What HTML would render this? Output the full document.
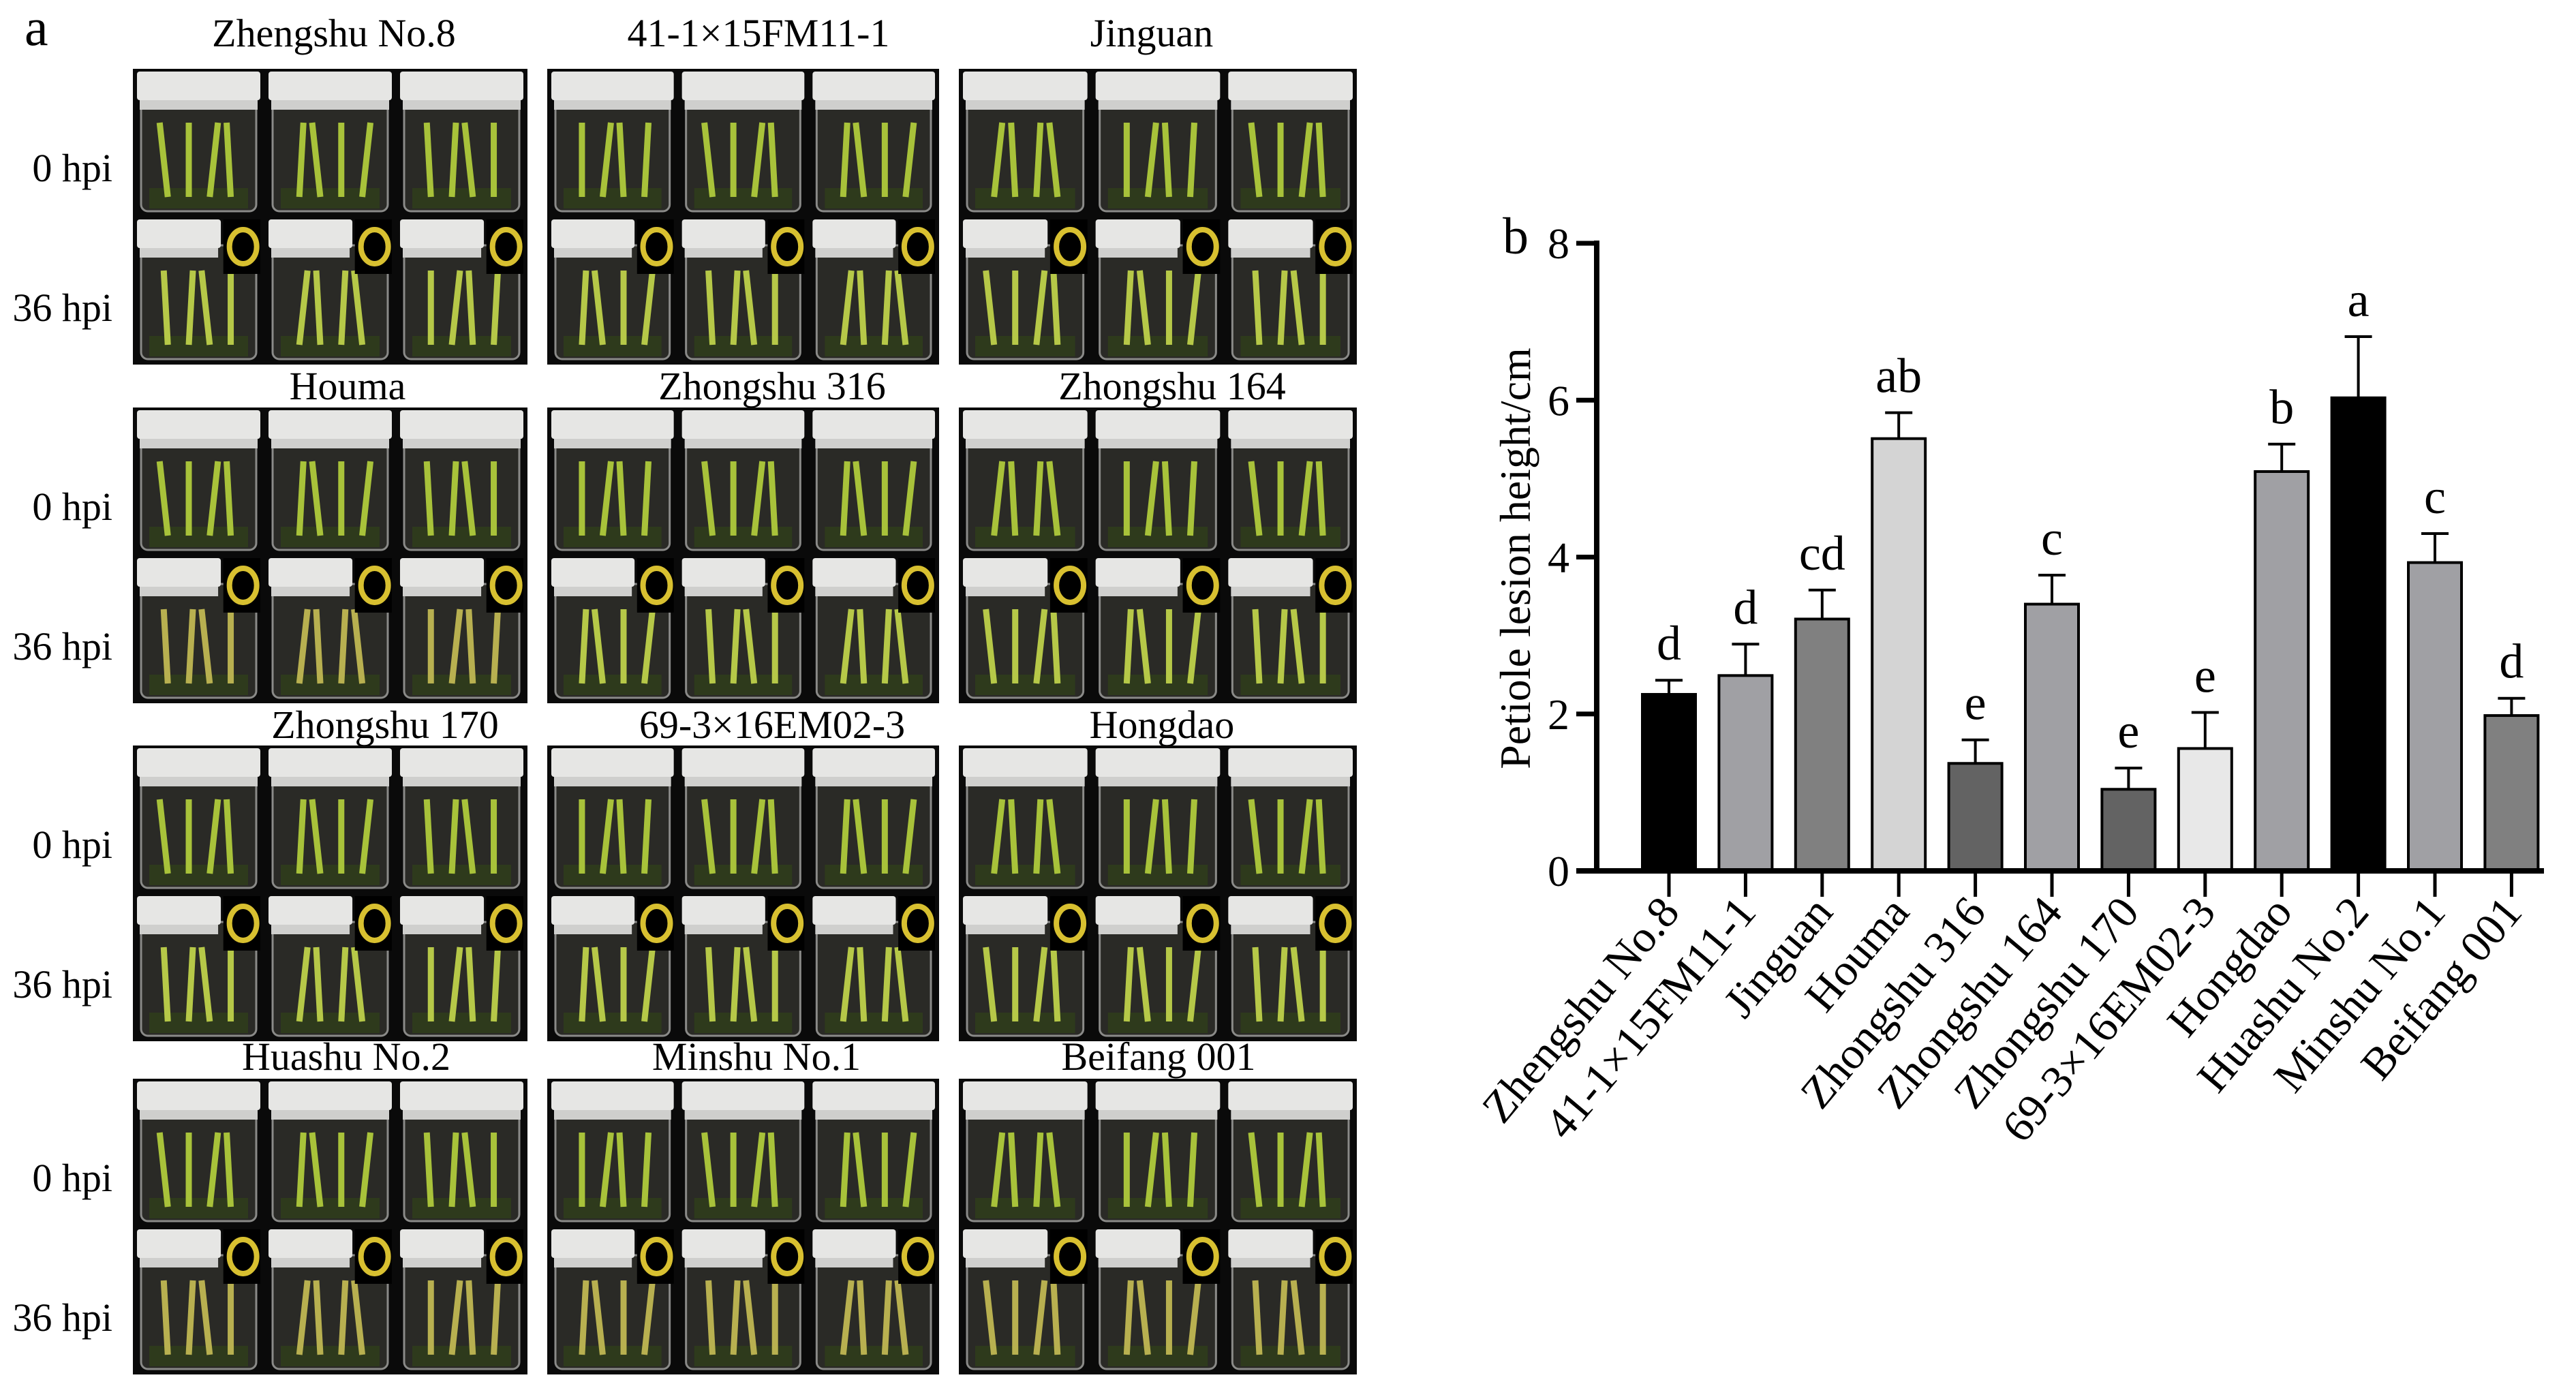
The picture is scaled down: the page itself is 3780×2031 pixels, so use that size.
<!DOCTYPE html>
<html><head><meta charset="utf-8">
<style>
html,body{margin:0;padding:0;background:#fff;}
body{width:3780px;height:2031px;overflow:hidden;position:relative;font-family:"Liberation Serif",serif;}
svg{position:absolute;left:0;top:0;}
</style></head>
<body>
<svg id="photos" width="2100" height="2031" viewBox="0 0 2100 2031" style="left:0;top:0"></svg>
<svg id="chart" width="3780" height="2031" viewBox="0 0 3780 2031" style="left:0;top:0;pointer-events:none"></svg>
<script>
// ---- chart data ----
const categories = ["Zhengshu No.8","41-1×15FM11-1","Jinguan","Houma","Zhongshu 316","Zhongshu 164","Zhongshu 170","69-3×16EM02-3","Hongdao","Huashu No.2","Minshu No.1","Beifang 001"];
const means = [2.25,2.49,3.21,5.51,1.37,3.40,1.04,1.56,5.09,6.03,3.93,1.98];
const errors = [0.18,0.40,0.37,0.33,0.30,0.37,0.27,0.46,0.35,0.78,0.37,0.22];
const sigLetters = ["d","d","cd","ab","e","c","e","e","b","a","c","d"];
const yTicks = [0,2,4,6,8];
const barColors = ["#000000","#a0a0a4","#808080","#d4d4d4","#636363","#a0a0a4","#636363","#e8e8e8","#a0a0a4","#000000","#a0a0a4","#808080"];

const NS="http://www.w3.org/2000/svg";
function mk(parent,tag,attrs,text){const e=document.createElementNS(NS,tag);for(const k in attrs)e.setAttribute(k,attrs[k]);if(text!==undefined)e.textContent=text;parent.appendChild(e);return e;}

// ---- photo panel (decorative) ----
const ph=document.getElementById('photos');
const a=mk(ph,'text',{x:36,y:66,'font-size':78,fill:'#000'},'a');


const names=[["Zhengshu No.8","41-1×15FM11-1","Jinguan"],["Houma","Zhongshu 316","Zhongshu 164"],["Zhongshu 170","69-3×16EM02-3","Hongdao"],["Huashu No.2","Minshu No.1","Beifang 001"]];
const colX=[195,803,1407], colW=[579,575,584];
const groupY=[101,598,1094,1583], titleY=[48,566,1063,1550];
const titleX=[[490,1113,1690],[510,1133,1720],[565,1133,1705],[508,1110,1700]];
for(let g=0;g<4;g++){
  const l0=mk(ph,'text',{x:165,y:groupY[g]+165,'font-size':58,'text-anchor':'end',fill:'#000'},'0 hpi');
  
  
  const l1=mk(ph,'text',{x:165,y:groupY[g]+370,'font-size':58,'text-anchor':'end',fill:'#000'},'36 hpi');
  
  
  for(let c=0;c<3;c++){
    const t=mk(ph,'text',{x:titleX[g][c],y:titleY[g]+20,'font-size':58,'text-anchor':'middle',fill:'#000'},names[g][c]);
    
    
    const gx=colX[c],gy=groupY[g],gw=colW[c],gh=434;
    const grp=mk(ph,'g',{});
    
    
    mk(grp,'rect',{x:gx,y:gy,width:gw,height:gh,fill:'#0a0a0a'});
    for(let r=0;r<2;r++){
      for(let j=0;j<3;j++){
        const jw=gw/3, jx=gx+j*jw+6, jy=gy+r*217+4, w=jw-12, h=209;
        mk(grp,'rect',{x:jx+6,y:jy+38,width:w-12,height:h-42,fill:'#2a2a26',stroke:'#8a8a88','stroke-width':3,rx:10});
        mk(grp,'rect',{x:jx+18,y:jy+h-38,width:w-36,height:30,fill:'#2e3a1c'});
        const stemCol = r===0 ? '#a8c23a' : (g===3||(g===1&&c===0)?'#b8b050':'#b6c848');
        for(let s=0;s<4;s++){
          const sx=jx+w*0.25+s*w*0.17;
          const lean=((s*37+j*13+c*7+g*5+r*11)%5-2)*6;
          mk(grp,'line',{x1:sx,y1:jy+h-25,x2:sx+lean,y2:jy+75,stroke:stemCol,'stroke-width':9});
        }
        const lidW = r===1 ? w*0.68 : w;
        mk(grp,'rect',{x:jx,y:jy,width:lidW,height:42,fill:'#e6e6e4',rx:4});
        mk(grp,'rect',{x:jx+4,y:jy+42,width:lidW-8,height:14,fill:'#cfcfcd'});
        if(r===1){
          const cx=jx+w*0.86, cy=jy+40;
          mk(grp,'rect',{x:jx+w*0.7,y:jy,width:w*0.3,height:80,fill:'#000'});
          mk(grp,'ellipse',{cx:cx,cy:cy,rx:20,ry:25,fill:'none',stroke:'#d8c030','stroke-width':8});
        }
      }
    }
  }
}

// ---- chart ----
const ch=document.getElementById('chart');
const X0=2343, XEND=3733, Y0=1278, YTOP=357, YMAX=8;
const firstC=2449, step=112.4, barW=78;
const yScale=v=>Y0-(v/YMAX)*(Y0-YTOP);
const xScale=i=>firstC+i*step;

const bl=mk(ch,'text',{x:2205,y:372,'font-size':76,fill:'#000'},'b');



const yt=mk(ch,'text',{x:0,y:0,'font-size':64,'text-anchor':'middle',fill:'#000',transform:`translate(2245,${(Y0+YTOP)/2+2}) rotate(-90)`},'Petiole lesion height/cm');



for(let i=0;i<categories.length;i++){
  const cx=xScale(i), top=yScale(means[i]), et=yScale(means[i]+errors[i]);
  const eb=mk(ch,'line',{x1:cx,y1:top,x2:cx,y2:et,stroke:'#000','stroke-width':4});
  
  
  const cap=mk(ch,'line',{x1:cx-20,y1:et,x2:cx+20,y2:et,stroke:'#000','stroke-width':4});
  
  
  const b=mk(ch,'rect',{x:cx-barW/2,y:top,width:barW,height:Y0-top,fill:barColors[i],stroke:'#000','stroke-width':4});
  
  
  const lt=mk(ch,'text',{x:cx,y:et-30,'font-size':72,'text-anchor':'middle',fill:'#000'},sigLetters[i]);
  
  
  const tk=mk(ch,'line',{x1:cx,y1:Y0,x2:cx,y2:Y0+38,stroke:'#000','stroke-width':5});
  
  
  const xl=mk(ch,'text',{x:0,y:0,'font-size':66,'text-anchor':'end',fill:'#000',transform:`translate(${cx+18},${Y0+62}) rotate(-50)`},categories[i]);
  
  
}
const ya=mk(ch,'line',{x1:X0,y1:YTOP-4,x2:X0,y2:Y0+4,stroke:'#000','stroke-width':8});


const xa=mk(ch,'line',{x1:X0-30,y1:Y0,x2:XEND,y2:Y0,stroke:'#000','stroke-width':8});


for(const v of yTicks){
  const y=yScale(v);
  const t=mk(ch,'line',{x1:X0-30,y1:y,x2:X0,y2:y,stroke:'#000','stroke-width':7});
  
  
  const l=mk(ch,'text',{x:X0-40,y:y+22,'font-size':64,'text-anchor':'end',fill:'#000'},String(v));
  
  
}
</script>
</body></html>
